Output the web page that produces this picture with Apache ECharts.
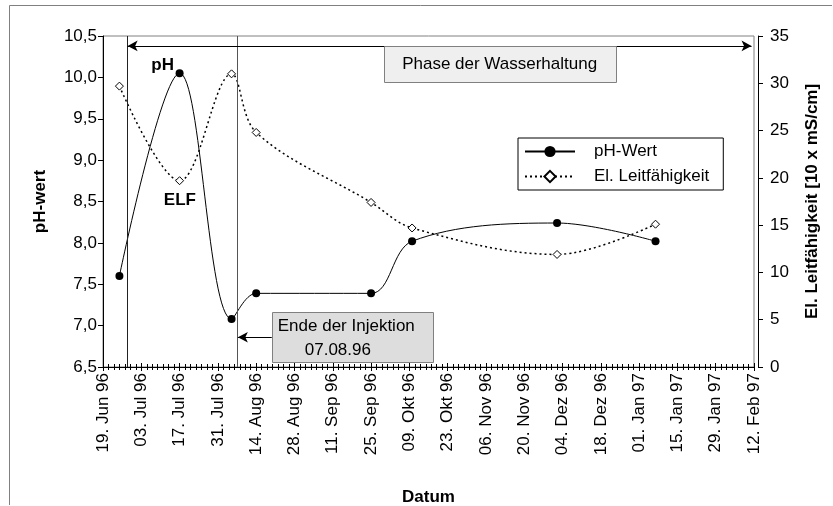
<!DOCTYPE html>
<html><head><meta charset="utf-8">
<script src="https://cdn.jsdelivr.net/npm/echarts@6/dist/echarts.min.js"></script>
<style>html,body{margin:0;padding:0;background:#fff;overflow:hidden}#c{width:833px;height:506px}</style>
</head><body><div id="c"></div>
<script>
// ---- data ----
const startDate = '1996-06-19';
const endDate = '1997-02-12';
const sampleDates = ['1996-06-25','1996-07-17','1996-08-05','1996-08-14','1996-09-25','1996-10-10','1996-12-02','1997-01-07'];
const phValues = [7.60, 10.05, 7.08, 7.39, 7.39, 8.02, 8.24, 8.02];
const elfValues = [29.7, 19.7, 31.0, 24.8, 17.4, 14.7, 11.9, 15.1];
const monthNames = ['Jan','Feb','Mrz','Apr','Mai','Jun','Jul','Aug','Sep','Okt','Nov','Dez'];
const phaseStartDate = '1996-06-28';
const injectionEndDate = '1996-08-07';
const seriesNames = ['pH-Wert', 'El. Leitfähigkeit'];

const FONT = '"Liberation Sans", Arial, sans-serif';
const DAY = 86400000;
const T0 = Date.UTC(1996, 5, 19);
function dayOf(s) { const [y, m, d] = s.split('-').map(Number); return (Date.UTC(y, m - 1, d) - T0) / DAY; }
function fmtDay(v) {
  const dt = new Date(T0 + Math.round(v) * DAY);
  return String(dt.getUTCDate()).padStart(2, '0') + '. ' + monthNames[dt.getUTCMonth()] + ' ' + String(dt.getUTCFullYear()).slice(2);
}
const xMin = dayOf(startDate);
const xMax = dayOf(endDate);
const phData = sampleDates.map((d, i) => [dayOf(d), phValues[i]]);
const elfData = sampleDates.map((d, i) => [dayOf(d), elfValues[i]]);
const xPhase = dayOf(phaseStartDate);
const xInj = dayOf(injectionEndDate);

const chart = echarts.init(document.getElementById('c'), null, { renderer: 'canvas' });
function px(x, y) { return chart.convertToPixel({ gridIndex: 0 }, [x, y]); }

chart.setOption({
  animation: false,
  backgroundColor: '#fff',
  textStyle: { fontFamily: FONT, color: '#000' },
  grid: { left: 103, right: 79, top: 36, bottom: 139, show: true, borderColor: '#808080', borderWidth: 1, backgroundColor: 'transparent', containLabel: false, outerBoundsMode: 'none' },
  legend: {
    orient: 'vertical', left: 518, top: 138,
    backgroundColor: '#fff', borderColor: '#000', borderWidth: 1, borderRadius: 0,
    padding: [5, 14, 5, 6], itemGap: 8, itemWidth: 50, itemHeight: 14,
    textStyle: { fontFamily: FONT, fontSize: 17, color: '#000', padding: [0, 0, 0, 14] },
    data: seriesNames
  },
  xAxis: [{
    type: 'value', min: xMin, max: xMax, interval: 14, position: 'bottom',
    name: 'Datum', nameLocation: 'middle', nameGap: 122,
    nameTextStyle: { fontFamily: FONT, fontSize: 17, fontWeight: 'bold', color: '#000' },
    axisLine: { show: true, onZero: false, lineStyle: { color: '#000', width: 1 } },
    axisTick: { show: true, inside: false, length: 4, lineStyle: { color: '#000' } },
    minorTick: { show: true, splitNumber: 7, length: 3, lineStyle: { color: '#000' } },
    splitLine: { show: false }, minorSplitLine: { show: false },
    axisLabel: { show: true, rotate: 90, margin: 6, fontFamily: FONT, fontSize: 17, color: '#000', formatter: fmtDay, hideOverlap: false, showMinLabel: true, showMaxLabel: true }
  }, {
    type: 'value', min: xMin, max: xMax, interval: 14, position: 'bottom',
    axisLine: { show: false, onZero: false },
    axisTick: { show: true, inside: true, length: 4, lineStyle: { color: '#000' } },
    minorTick: { show: true, splitNumber: 7, length: 3, lineStyle: { color: '#000' } },
    splitLine: { show: false }, axisLabel: { show: false }
  }],
  yAxis: [{
    type: 'value', min: 6.5, max: 10.5, interval: 0.5, position: 'left',
    name: 'pH-wert', nameLocation: 'middle', nameGap: 54, nameRotate: 90,
    nameTextStyle: { fontFamily: FONT, fontSize: 17, fontWeight: 'bold', color: '#000' },
    axisLine: { show: true, onZero: false, lineStyle: { color: '#000', width: 1 } },
    axisTick: { show: true, length: 5, lineStyle: { color: '#000' } },
    splitLine: { show: false },
    axisLabel: { margin: 6, fontFamily: FONT, fontSize: 17, color: '#000', formatter: v => v.toFixed(1).replace('.', ','), showMinLabel: true, showMaxLabel: true }
  }, {
    type: 'value', min: 0, max: 35, interval: 5, position: 'right', offset: 4,
    name: 'El. Leitfähigkeit [10 x mS/cm]', nameLocation: 'middle', nameGap: 46, nameRotate: 90,
    nameTextStyle: { fontFamily: FONT, fontSize: 17, fontWeight: 'bold', color: '#000' },
    axisLine: { show: true, onZero: false, lineStyle: { color: '#000', width: 1 } },
    axisTick: { show: true, length: 5, lineStyle: { color: '#000' } },
    splitLine: { show: false },
    axisLabel: { margin: 12, fontFamily: FONT, fontSize: 17, color: '#000', showMinLabel: true, showMaxLabel: true }
  }],
  series: [{
    name: seriesNames[0], type: 'line', xAxisIndex: 0, yAxisIndex: 0, data: phData,
    smooth: 0.35, symbol: 'circle', symbolSize: 8, showAllSymbol: true,
    lineStyle: { color: '#000', width: 1, type: 'solid' },
    itemStyle: { color: '#000', borderColor: '#000', borderWidth: 0 },
    z: 3,
    markLine: {
      silent: true, animation: false, label: { show: false },
      symbolSize: [8, 10],
      lineStyle: { color: '#000', width: 1, type: 'solid' },
      emphasis: { disabled: true },
      data: [
        [{ coord: [xPhase, 6.5], symbol: 'none', lineStyle: { color: '#222' } }, { coord: [xPhase, 10.5], symbol: 'none' }],
        [{ coord: [xInj, 6.5], symbol: 'none', lineStyle: { color: '#555' } }, { coord: [xInj, 10.5], symbol: 'none' }],
        [{ coord: [xPhase, 10.38], symbol: 'arrow' }, { coord: [xMax - 0.9, 10.38], symbol: 'arrow' }],
        [{ coord: [61.7, 6.86], symbol: 'none' }, { coord: [xInj + 0.3, 6.86], symbol: 'arrow' }]
      ]
    }
  }, {
    name: seriesNames[1], type: 'line', xAxisIndex: 0, yAxisIndex: 1, data: elfData,
    smooth: 0.35, symbol: 'diamond', symbolSize: 8, showAllSymbol: true,
    lineStyle: { color: '#000', width: 1.5, type: [2, 3] },
    itemStyle: { color: '#fff', borderColor: '#000', borderWidth: 1 },
    z: 4
  }]
});

// annotation boxes positioned by data coordinates
const pA = px(102.6, 10.38), pB = px(187.4, 9.944);
const eA = px(61.7, 7.165), eB = px(120.5, 6.56);
const pHLabel = px(21.8, 10.14), elfLabel = px(28.1, 8.52);
chart.setOption({
  graphic: [
    { type: 'polyline', silent: true, shape: { points: [[9.5, 505], [9.5, 5.5], [832, 5.5]] }, style: { fill: null, stroke: '#808080', lineWidth: 1 }, z: 100 },
    { type: 'rect', silent: true, shape: { x: Math.round(pA[0]) + 0.5, y: Math.round(pA[1]) + 0.5, width: Math.round(pB[0] - pA[0]), height: Math.round(pB[1] - pA[1]) }, style: { fill: '#efefef', stroke: '#808080', lineWidth: 1 }, z: 50 },
    { type: 'text', silent: true, x: (pA[0] + pB[0]) / 2, y: (pA[1] + pB[1]) / 2, style: { text: 'Phase der Wasserhaltung', font: '17px ' + FONT, fill: '#000', align: 'center', verticalAlign: 'middle' }, z: 51 },
    { type: 'rect', silent: true, shape: { x: Math.round(eA[0]) + 0.5, y: Math.round(eA[1]) + 0.5, width: Math.round(eB[0] - eA[0]), height: Math.round(eB[1] - eA[1]) }, style: { fill: '#dddddd', stroke: '#808080', lineWidth: 1 }, z: 50 },
    { type: 'text', silent: true, x: eA[0] + 6, y: eA[1] + 14, style: { text: 'Ende der Injektion', font: '17px ' + FONT, fill: '#000', align: 'left', verticalAlign: 'middle' }, z: 51 },
    { type: 'text', silent: true, x: eA[0] + 33, y: eA[1] + 38, style: { text: '07.08.96', font: '17px ' + FONT, fill: '#000', align: 'left', verticalAlign: 'middle' }, z: 51 },
    { type: 'text', silent: true, x: pHLabel[0], y: pHLabel[1], style: { text: 'pH', font: 'bold 17px ' + FONT, fill: '#000', align: 'center', verticalAlign: 'middle' }, z: 51 },
    { type: 'text', silent: true, x: elfLabel[0], y: elfLabel[1], style: { text: 'ELF', font: 'bold 17px ' + FONT, fill: '#000', align: 'center', verticalAlign: 'middle' }, z: 51 }
  ]
});
</script></body></html>
